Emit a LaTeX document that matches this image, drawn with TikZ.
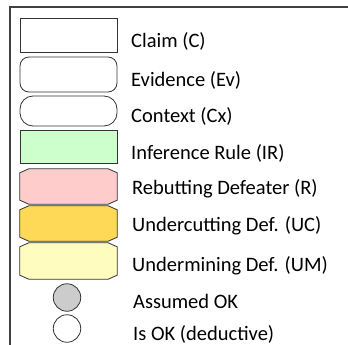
\documentclass[tikz,border=0pt]{standalone}
\usepackage{fontspec}
\setmainfont{Carlito}
\usetikzlibrary{positioning}

\begin{document}
\begin{tikzpicture}[x=1pt,y=-1pt,
  box/.style={draw=black!80,line width=0.8pt,minimum width=97pt,inner sep=0pt},
  defeater/.style={minimum width=97pt,inner sep=0pt,minimum height=35pt},
  okmark/.style={draw=black!80,line width=0.8pt,circle,minimum size=27.5pt,inner sep=0pt},
  lbl/.style={anchor=base west,inner sep=0pt,font=\fontsize{20.5}{24}\selectfont}]
\useasboundingbox (0,0) rectangle (348,345);
% frame
\draw[line width=2pt,black!75] (348,7) -- (10,7) -- (10,345);

% node shapes
\node[box,minimum height=34pt] (claim) at (68.5,35) {};
\node[box,minimum height=35pt,rounded corners=9pt] (evid) at (68.5,74.5) {};
\node[box,minimum height=30pt,rounded corners=13pt] (ctx) at (68.5,111) {};
\node[box,minimum height=33pt,fill=green!20] (rule) at (68.5,146.5) {};
\node[defeater] (rebut) at (68.5,186.5) {};
\node[defeater] (undercut) at (68.5,223.5) {};
\node[defeater,minimum height=36pt] (undermine) at (68.5,261) {};
\foreach \n/\c in {rebut/red!20,undercut/yellow!60!orange!65,undermine/yellow!25}
  \draw[draw=black!80,line width=0.8pt,fill=\c]
    ([xshift=9pt]\n.north west) -- ([xshift=-9pt]\n.north east)
    -- ([yshift=-4pt]\n.north east) -- ([yshift=4pt]\n.south east)
    -- ([xshift=-9pt]\n.south east) -- ([xshift=9pt]\n.south west)
    -- ([yshift=4pt]\n.south west) -- ([yshift=-4pt]\n.north west) -- cycle;
\node[okmark,fill=black!20] (assumed) at (67,297.5) {};
\node[okmark] (isok) at (67,328.5) {};

% labels
\node[lbl] (tclaim) at (131,47.7) {Claim (C)};
\node[lbl] (tevid) at (131,86) {Evidence (Ev)};
\node[lbl] (tctx) at (131,122.3) {Context (Cx)};
\node[lbl] (trule) at (131,159.3) {Inference Rule (IR)};
\node[lbl] (trebut) at (132,194) {Rebutting Defeater (R)};
\node[lbl] (tundercut) at (132,231) {Undercutting Def. (UC)};
\node[lbl] (tundermine) at (132,271.7) {Undermining Def. (UM)};
\node[lbl] (tassumed) at (133,308.3) {Assumed OK};
\node[lbl] (tisok) at (133,340) {Is OK (deductive)};
\end{tikzpicture}
\end{document}
